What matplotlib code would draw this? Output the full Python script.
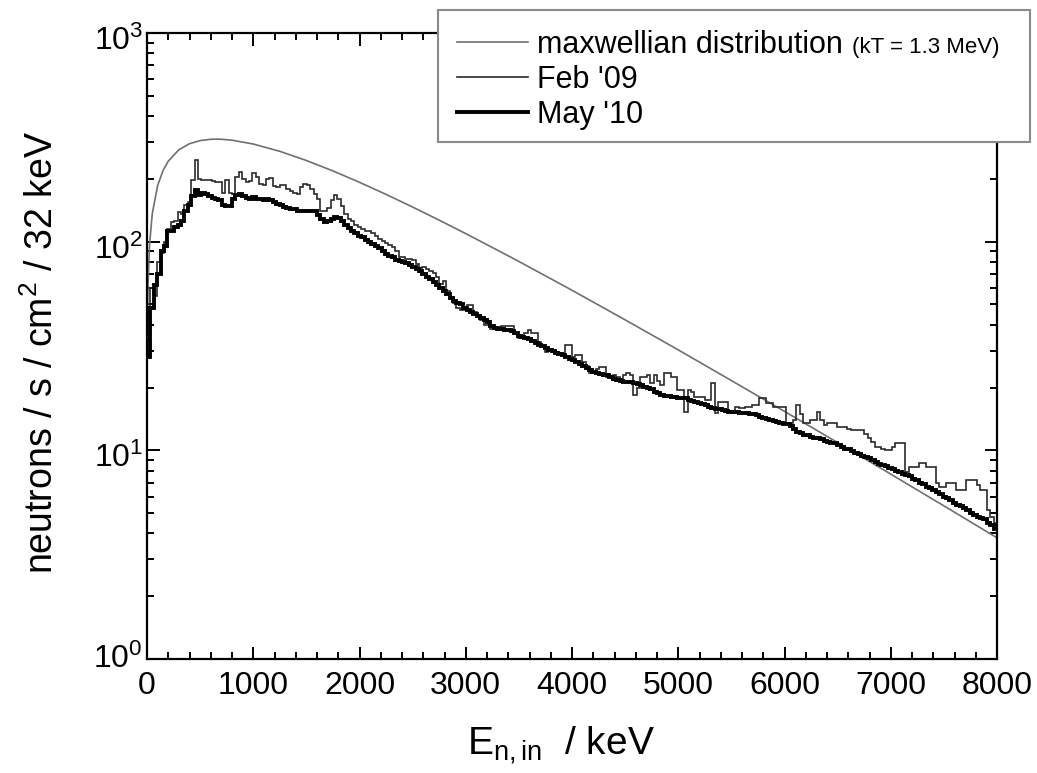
import numpy as np
import matplotlib
matplotlib.use("Agg")
import matplotlib.pyplot as plt
import matplotlib.transforms as mtransforms
from matplotlib.patches import Rectangle
from matplotlib.lines import Line2D
from matplotlib.ticker import LogLocator, MultipleLocator, NullFormatter

plt.rcParams['font.family'] = ['Liberation Sans', 'DejaVu Sans']
plt.rcParams['mathtext.fontset'] = 'custom'
plt.rcParams['mathtext.rm'] = 'Liberation Sans'
plt.rcParams['mathtext.it'] = 'Liberation Sans:italic'
plt.rcParams['mathtext.bf'] = 'Liberation Sans:bold'
plt.rcParams['mathtext.default'] = 'regular'

# ---------------- data ----------------
BIN_KEV = 32  # histogram bin width

feb09 = [
    35, 60, 55, 80, 88, 100, 115, 124, 125, 138,
    135, 150, 155, 197, 245, 200, 198, 197, 197, 195,
    193, 193, 172, 197, 172, 170, 205, 215, 200, 193,
    195, 213, 205, 190, 186, 200, 203, 185, 182, 186,
    186, 178, 174, 172, 170, 182, 188, 186, 178, 170,
    160, 141, 141, 145, 158, 167, 160, 149, 135, 129,
    125, 120, 117, 115, 113, 112, 110, 106, 103, 101,
    99, 96, 94, 90, 84, 84, 83, 83, 82, 78,
    75, 76, 74, 72, 71, 68, 63, 65, 58, 54,
    51, 48, 47, 47, 49.6, 49.6, 46, 44, 42, 40,
    39.8, 38, 38.5, 39, 39.3, 39.3, 39.3, 39.3, 36, 34.5,
    35, 36.5, 37.7, 36.4, 36.4, 33, 31.5, 29.5, 30.5, 30,
    29.6, 29.3, 29, 31.9, 31.9, 27.9, 28.6, 28.6, 26.5, 25.5,
    23.4, 24, 24.5, 25, 25, 22.4, 22.4, 23, 22.4, 22,
    23, 23.4, 23, 18.4, 20, 22.4, 22.4, 22.9, 21, 22.9,
    21.5, 20.5, 23.4, 23.4, 22.4, 22.4, 19.4, 19.4, 15.2, 19.4,
    19, 18, 18, 18, 17.4, 17.4, 21, 15.1, 17, 17,
    17, 15.1, 15.5, 16.1, 15.9, 16, 16.1, 16.1, 16.5, 16.5,
    17.8, 17.8, 16.8, 16.8, 16.1, 16.1, 16.1, 16.1, 13.5, 13.5,
    14, 16.5, 15, 13.5, 13.5, 14, 14, 15.2, 14, 13.2,
    13.5, 13.5, 13.5, 12.9, 12.9, 12.9, 12.7, 12.5, 12.5, 12.5,
    12.5, 12.0, 11.5, 11.0, 10.4, 10.4, 10.2, 10.0, 10.0, 10.4,
    10.8, 10.8, 10.8, 7.9, 8.3, 8.3, 8.3, 8.7, 8.7, 8.3,
    8.3, 8.3, 7.0, 6.7, 6.7, 7.0, 7.0, 7.0, 6.45, 6.45,
    6.45, 7.2, 7.2, 7.2, 6.8, 6.45, 6.45, 5.2, 4.8, 4.5,
]

may10 = [
    28, 48, 62, 70, 90, 95, 112, 113, 118, 120,
    126, 140, 150, 165, 176, 168, 172, 170, 165, 162,
    161, 158, 150, 148, 149, 160, 168, 170, 165, 162,
    160, 163, 161, 160, 158, 160, 158, 155, 152, 150,
    146, 145, 144, 143, 141, 141, 141, 141, 141, 140,
    134, 128, 124, 125, 128, 131, 130, 125, 120, 116,
    113, 110, 107, 105, 102, 100, 97, 95, 93, 90,
    87, 85, 84, 82, 81, 80, 79, 77, 76, 74,
    72, 70, 68, 66, 64, 62, 60, 58, 56, 54,
    52, 51, 50, 48, 47, 46, 45, 44, 43, 42,
    41, 39.5, 38.5, 38, 38, 37.7, 37.7, 37.5, 36.5, 35.5,
    35, 34.5, 34, 33.3, 32.7, 32, 31.5, 31, 30.3, 29.8,
    29.3, 29, 28.5, 28, 27.5, 27, 26.5, 26, 25.3, 24.8,
    24.2, 23.8, 23.5, 23.3, 23, 22.9, 22.5, 22, 21.7, 21.5,
    21.3, 21.2, 21.2, 21, 20.7, 20.5, 20.2, 19.9, 19.6, 19.1,
    18.8, 18.4, 18.3, 18.2, 18, 18, 17.9, 17.9, 17.8, 17.5,
    17.3, 17.0, 16.8, 16.6, 16.5, 16.2, 15.9, 15.8, 15.7, 15.6,
    15.4, 15.3, 15.2, 15.2, 15.1, 15.1, 15.1, 15.0, 14.9, 14.7,
    14.5, 14.3, 14.1, 13.9, 13.8, 13.6, 13.5, 13.4, 13.3, 13.1,
    12.6, 12.2, 12.1, 11.9, 11.8, 11.6, 11.5, 11.4, 11.3, 11.1,
    11.0, 10.9, 10.8, 10.6, 10.4, 10.2, 10.1, 9.9, 9.7, 9.6,
    9.4, 9.3, 9.2, 9.0, 8.8, 8.6, 8.5, 8.4, 8.2, 8.1,
    8.0, 7.9, 7.7, 7.6, 7.5, 7.3, 7.2, 7.0, 6.9, 6.7,
    6.6, 6.45, 6.3, 6.2, 6.0, 5.9, 5.8, 5.6, 5.5, 5.4,
    5.3, 5.2, 5.0, 4.9, 4.8, 4.75, 4.7, 4.5, 4.4, 4.2,
]

maxw_energy = [2, 5, 10, 25, 50, 100, 150, 200, 300, 400, 500, 600, 650, 700,
               800, 1000, 1250, 1500, 1750, 2000, 2250, 2500, 2750, 3000,
               3250, 3500, 4000, 4500, 5000, 5500, 6000, 6500, 7000, 7500, 8000]
maxw_value = [28.3, 44.7, 62.9, 98.4, 136.4, 185.7, 218.8, 243.1, 275.7, 294.7,
              305.1, 309.5, 310, 309.6, 306.4, 293.8, 271.0, 244.9, 218.3, 192.5,
              168.5, 146.5, 126.8, 109.3, 93.8, 80.4, 58.5, 42.2, 30.3, 21.6,
              15.37, 10.89, 7.69, 5.42, 3.81]

x_ticks = [0, 1000, 2000, 3000, 4000, 5000, 6000, 7000, 8000]
legend_labels = ["maxwellian distribution", "Feb '09", "May '10"]
legend_note = "(kT = 1.3 MeV)"
x_label = r"E$_{\mathregular{n,in}}$  / keV"
y_label = r"neutrons / s / cm$^{2}$ / 32 keV"

# ---------------- figure ----------------
W, H = 1037, 773
fig = plt.figure(figsize=(W / 100, H / 100), dpi=100)
L, R, T, B = 147, 997, 33, 659
ax = fig.add_axes([L / W, 1 - B / H, (R - L) / W, (B - T) / H])


def fx(px):
    return px / W


def fy(py):
    return 1 - py / H


c_max, c_feb, c_may = '#707070', '#2a2a2a', '#000000'
lw_max, lw_feb, lw_may = 1.2, 1.2, 2.8

ax.set_yscale('log')
edges_feb = np.arange(len(feb09) + 1) * BIN_KEV
edges_may = np.arange(len(may10) + 1) * BIN_KEV
ax.plot(maxw_energy, maxw_value, color=c_max, lw=lw_max, zorder=2)
ax.stairs(feb09, edges_feb, color=c_feb, lw=lw_feb, baseline=None, zorder=3)
ax.stairs(may10, edges_may, color=c_may, lw=lw_may, baseline=None, zorder=4)

ax.set_xlim(0, 8000)
ax.set_ylim(1, 1000)
ax.set_xticks(x_ticks)
ax.set_xticklabels([str(t) for t in x_ticks])
ax.xaxis.set_minor_locator(MultipleLocator(200))
ax.yaxis.set_major_locator(LogLocator(base=10, numticks=10))
ax.yaxis.set_minor_locator(LogLocator(base=10, subs=np.arange(2, 10), numticks=20))
ax.yaxis.set_minor_formatter(NullFormatter())

for s in ax.spines.values():
    s.set_linewidth(1.6)
ax.tick_params(which='both', direction='in', top=True, right=True, width=1.4)
ax.tick_params(which='major', length=9)
ax.tick_params(which='minor', length=5)
ax.tick_params(axis='x', which='major', labelsize=23, pad=9)
ax.tick_params(axis='y', which='major', labelsize=23, pad=3)

# upper y tick labels sit a little below their ticks in the reference
fig.canvas.draw()
shift_down = mtransforms.ScaledTranslation(0, -0.05, fig.dpi_scale_trans)
shift_up = mtransforms.ScaledTranslation(0, 0.03, fig.dpi_scale_trans)
for tick in ax.yaxis.get_major_ticks():
    loc = tick.get_loc()
    if loc is None:
        continue
    lab = tick.label1
    if loc > 1.5:
        lab.set_transform(lab.get_transform() + shift_down)
    else:
        lab.set_transform(lab.get_transform() + shift_up)

fig.text(fx(42), fy(352), y_label, rotation=90, ha='center', va='center', fontsize=27)
fig.text(fx(561), fy(745), x_label, ha='center', va='center', fontsize=28)

# ---------------- legend ----------------
box = Rectangle((fx(438), fy(142)), fx(1030) - fx(438), fy(10) - fy(142),
                transform=fig.transFigure, facecolor='white', edgecolor='#8a8a8a',
                lw=1.5, zorder=10)
fig.add_artist(box)
rows = [42, 77, 112]
styles = [(c_max, lw_max), (c_feb, lw_feb), (c_may, lw_may)]
texts = []
for y, lab, (c, lw) in zip(rows, legend_labels, styles):
    fig.add_artist(Line2D([fx(457), fx(528)], [fy(y), fy(y)], transform=fig.transFigure,
                          color=c, lw=lw, zorder=11))
    t = fig.text(fx(537), fy(y + 11), lab, ha='left', va='baseline', fontsize=22, zorder=11)
    texts.append(t)

fig.canvas.draw()
bb = texts[0].get_window_extent(renderer=fig.canvas.get_renderer())
fig.text((bb.x1 + 9) / W, fy(rows[0] + 11), legend_note, ha='left', va='baseline',
         fontsize=16, zorder=11)

fig.savefig("out.png", dpi=100)
